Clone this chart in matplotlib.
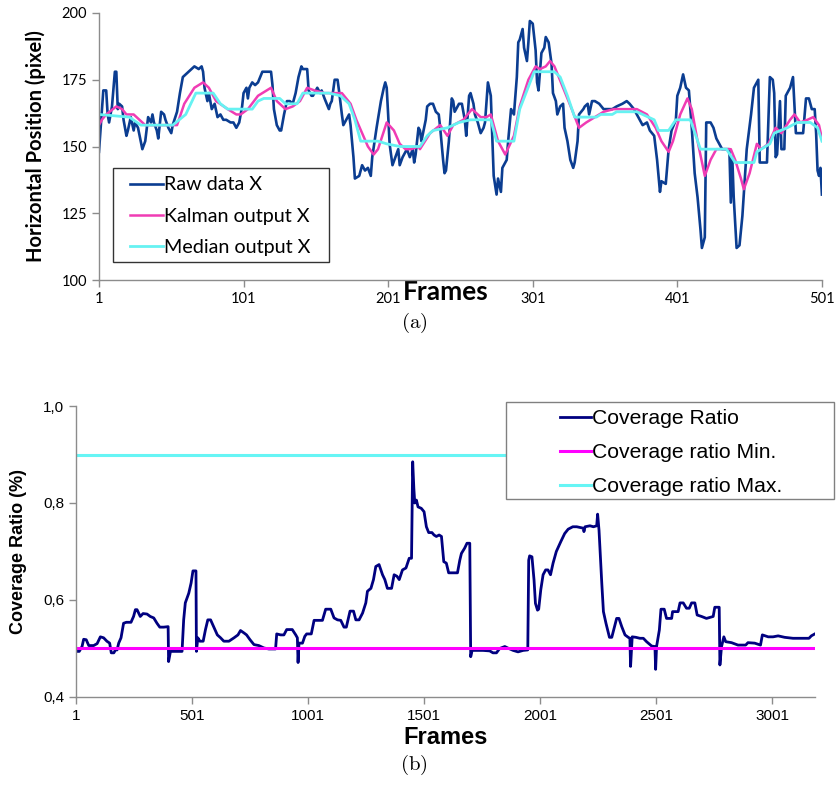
import matplotlib
matplotlib.use("Agg")
import matplotlib.pyplot as plt
from matplotlib.patches import Rectangle

plt.rcParams['mathtext.fontset'] = 'cm'

# ---- (a) horizontal position, frames 1..501 ----
raw_frames = [1, 4, 6, 7, 8, 10, 12, 13, 14, 15, 17, 18, 20, 21, 23, 25, 26, 28, 31, 33,
              35, 37, 38, 39, 41, 42, 44, 46, 47, 49, 51, 52, 55, 57, 59, 63, 65, 67, 70, 72,
              73, 74, 76, 77, 79, 81, 83, 85, 87, 89, 92, 94, 96, 98, 100, 101, 103, 104, 105, 107,
              109, 111, 114, 117, 120, 121, 122, 124, 126, 127, 129, 131, 133, 135, 137, 139, 141, 142, 145, 146,
              148, 149, 152, 154, 155, 157, 160, 161, 162, 164, 166, 167, 169, 170, 171, 174, 175, 177, 178, 181,
              183, 185, 187, 189, 190, 193, 196, 198, 199, 200, 201, 202, 204, 206, 208, 209, 211, 212, 214, 216,
              218, 219, 220, 222, 223, 224, 227, 228, 230, 232, 234, 236, 237, 239, 240, 241, 243, 245, 246, 247,
              249, 250, 252, 254, 255, 257, 258, 260, 261, 263, 265, 267, 268, 270, 272, 273, 274, 276, 277, 279,
              280, 283, 284, 286, 288, 290, 291, 292, 294, 295, 297, 298, 299, 301, 303, 304, 305, 307, 309, 310,
              312, 314, 315, 317, 318, 320, 322, 323, 325, 327, 329, 330, 332, 333, 336, 337, 339, 340, 342, 344,
              347, 350, 352, 356, 359, 363, 366, 368, 371, 374, 377, 380, 382, 385, 387, 389, 390, 393, 395, 397,
              400, 401, 403, 405, 407, 409, 410, 411, 413, 415, 417, 418, 420, 421, 424, 426, 428, 430, 432, 434,
              437, 438, 439, 440, 442, 444, 446, 449, 452, 454, 457, 458, 463, 465, 467, 468, 469, 470, 472, 473,
              475, 476, 478, 479, 481, 483, 485, 488, 490, 492, 494, 496, 497, 498, 499, 500, 501]
raw_x = [148, 171, 171, 162, 159, 165, 178, 178, 164, 166, 165, 160, 154, 156, 161, 156, 159, 157, 149, 152,
         161, 159, 162, 159, 156, 153, 163, 162, 160, 157, 155, 158, 163, 170, 176, 178, 179, 180, 179, 180,
         178, 172, 167, 170, 164, 166, 161, 162, 160, 160, 159, 159, 157, 159, 165, 170, 172, 168, 172, 174,
         173, 174, 178, 178, 178, 173, 164, 158, 156, 156, 162, 167, 167, 166, 170, 176, 180, 179, 179, 171,
         169, 169, 172, 170, 171, 168, 164, 166, 167, 175, 175, 171, 162, 158, 159, 162, 158, 146, 138, 139,
         143, 141, 142, 139, 146, 157, 167, 172, 174, 172, 162, 151, 143, 146, 149, 143, 146, 147, 149, 146,
         149, 144, 147, 157, 156, 152, 160, 165, 166, 166, 163, 162, 157, 145, 140, 141, 152, 168, 167, 163,
         165, 166, 166, 160, 154, 169, 170, 166, 162, 159, 155, 157, 159, 174, 169, 154, 139, 132, 138, 133,
         142, 145, 152, 164, 162, 176, 189, 190, 194, 187, 182, 189, 197, 196, 186, 174, 171, 185, 187, 191,
         189, 181, 170, 167, 162, 165, 166, 157, 152, 145, 142, 144, 152, 162, 164, 165, 166, 162, 167, 167,
         166, 164, 164, 164, 165, 166, 167, 166, 164, 161, 158, 159, 156, 154, 145, 133, 137, 136, 149, 156,
         160, 169, 172, 177, 172, 171, 164, 157, 140, 131, 119, 112, 116, 159, 159, 157, 153, 151, 149, 149,
         149, 129, 146, 131, 112, 113, 124, 149, 162, 172, 175, 144, 144, 176, 175, 170, 146, 147, 167, 149,
         149, 169, 171, 172, 176, 155, 155, 155, 168, 168, 164, 164, 155, 141, 139, 142, 132]

kalman_frames = [1, 3, 6, 13, 17, 20, 25, 29, 33, 39, 50, 55, 60, 67, 73, 77, 82, 90, 96, 99,
                 104, 111, 120, 124, 130, 135, 140, 145, 150, 157, 165, 169, 175, 179, 183, 187, 191, 194, 200, 205,
                 209, 213, 217, 222, 223, 230, 237, 242, 246, 253, 259, 265, 269, 272, 277, 282, 288, 292, 298, 303,
                 306, 310, 313, 316, 322, 328, 333, 338, 344, 350, 357, 366, 373, 380, 386, 390, 395, 398, 403, 408,
                 411, 415, 420, 424, 428, 438, 441, 445, 447, 451, 456, 459, 464, 469, 473, 479, 482, 486, 491, 495,
                 499, 501]
kalman_x = [158, 160, 162, 165, 164, 162, 162, 160, 158, 158, 158, 158, 166, 172, 174, 172, 167, 164, 162, 162,
            164, 169, 172, 167, 164, 165, 167, 172, 171, 170, 170, 170, 166, 160, 155, 150, 147, 149, 159, 156,
            151, 149, 149, 150, 149, 155, 158, 154, 158, 160, 164, 161, 161, 162, 152, 147, 154, 165, 175, 180,
            179, 180, 182, 180, 172, 164, 157, 159, 161, 163, 164, 164, 164, 162, 157, 152, 148, 152, 162, 168,
            164, 152, 139, 145, 149, 149, 145, 138, 134, 140, 151, 149, 151, 157, 155, 160, 162, 159, 160, 161,
            158, 153]

median_frames = [1, 22, 30, 52, 61, 68, 80, 85, 90, 107, 111, 115, 126, 130, 138, 142, 160, 168, 174, 178,
                 182, 194, 200, 209, 223, 228, 232, 242, 250, 258, 272, 276, 288, 292, 297, 302, 316, 320, 325, 330,
                 345, 348, 356, 359, 373, 385, 388, 395, 400, 410, 417, 435, 441, 454, 456, 465, 468, 477, 484, 493,
                 498, 501]
median_x = [162, 161, 158, 158, 162, 170, 170, 166, 164, 164, 167, 168, 168, 166, 166, 170, 170, 169, 166, 160,
            152, 152, 151, 150, 150, 154, 156, 157, 159, 160, 160, 152, 152, 164, 171, 178, 178, 176, 169, 161,
            161, 162, 162, 163, 163, 160, 156, 156, 160, 160, 149, 149, 144, 144, 148, 151, 155, 157, 159, 159,
            157, 152]

top_xticks = [1, 101, 201, 301, 401, 501]
top_yticks = [100, 125, 150, 175, 200]

# ---- (b) coverage ratio, frames 1..~3185 ----
cov_frames = [1, 15, 27, 34, 45, 56, 77, 92, 106, 120, 134, 146, 153, 164, 171, 178, 185, 195, 206, 218,
              238, 249, 257, 264, 278, 290, 307, 321, 336, 350, 362, 379, 398, 400, 408, 458, 465, 472, 487, 497,
              505, 518, 520, 526, 535, 549, 559, 569, 581, 595, 610, 624, 638, 660, 682, 699, 710, 725, 736, 751,
              768, 789, 811, 832, 861, 866, 883, 897, 909, 933, 948, 955, 958, 962, 977, 987, 995, 1015, 1027, 1063,
              1077, 1099, 1113, 1128, 1142, 1156, 1166, 1182, 1197, 1207, 1221, 1236, 1250, 1257, 1272, 1283, 1293, 1307, 1322, 1332,
              1343, 1361, 1372, 1384, 1394, 1408, 1423, 1437, 1447, 1452, 1457, 1461, 1468, 1475, 1489, 1501, 1511, 1521, 1535, 1544,
              1554, 1566, 1576, 1586, 1597, 1607, 1645, 1655, 1662, 1676, 1686, 1698, 1702, 1708, 1755, 1784, 1798, 1813, 1827, 1849,
              1866, 1885, 1906, 1928, 1948, 1952, 1956, 1966, 1975, 1981, 1990, 1995, 2004, 2014, 2025, 2035, 2046, 2057, 2071, 2090,
              2107, 2122, 2142, 2159, 2188, 2190, 2195, 2216, 2231, 2245, 2249, 2255, 2267, 2274, 2285, 2300, 2310, 2320, 2331, 2341,
              2353, 2367, 2381, 2388, 2391, 2398, 2414, 2431, 2446, 2460, 2482, 2496, 2499, 2503, 2515, 2522, 2536, 2546, 2568, 2572,
              2596, 2604, 2618, 2632, 2644, 2654, 2668, 2678, 2697, 2718, 2747, 2754, 2773, 2776, 2783, 2793, 2801, 2826, 2854, 2887,
              2897, 2926, 2951, 2959, 2984, 3005, 3027, 3055, 3091, 3160, 3170, 3185]
cov_ratio = [0.494, 0.494, 0.504, 0.519, 0.518, 0.506, 0.506, 0.510, 0.524, 0.522, 0.515, 0.511, 0.491, 0.491, 0.497, 0.497, 0.511, 0.522, 0.552, 0.554,
             0.554, 0.566, 0.580, 0.580, 0.566, 0.572, 0.571, 0.566, 0.563, 0.552, 0.544, 0.544, 0.545, 0.473, 0.494, 0.494, 0.559, 0.594, 0.614, 0.635,
             0.660, 0.660, 0.494, 0.522, 0.515, 0.515, 0.539, 0.559, 0.559, 0.544, 0.528, 0.522, 0.515, 0.515, 0.522, 0.528, 0.537, 0.532, 0.528, 0.518,
             0.508, 0.506, 0.501, 0.499, 0.499, 0.530, 0.528, 0.528, 0.539, 0.539, 0.528, 0.522, 0.471, 0.511, 0.511, 0.525, 0.530, 0.530, 0.558, 0.558,
             0.581, 0.581, 0.563, 0.559, 0.558, 0.544, 0.544, 0.577, 0.577, 0.559, 0.559, 0.573, 0.594, 0.618, 0.624, 0.642, 0.669, 0.673, 0.652, 0.642,
             0.624, 0.624, 0.652, 0.649, 0.642, 0.662, 0.666, 0.686, 0.686, 0.885, 0.830, 0.800, 0.806, 0.792, 0.789, 0.782, 0.751, 0.739, 0.739, 0.734,
             0.731, 0.734, 0.731, 0.679, 0.676, 0.656, 0.656, 0.682, 0.696, 0.707, 0.717, 0.717, 0.483, 0.496, 0.496, 0.495, 0.491, 0.491, 0.500, 0.504,
             0.500, 0.496, 0.493, 0.496, 0.497, 0.682, 0.691, 0.689, 0.641, 0.593, 0.579, 0.581, 0.621, 0.652, 0.662, 0.662, 0.652, 0.676, 0.700, 0.720,
             0.737, 0.746, 0.751, 0.751, 0.748, 0.741, 0.751, 0.753, 0.751, 0.753, 0.777, 0.744, 0.634, 0.576, 0.552, 0.523, 0.523, 0.542, 0.562, 0.562,
             0.545, 0.528, 0.523, 0.521, 0.463, 0.524, 0.523, 0.521, 0.521, 0.514, 0.505, 0.504, 0.457, 0.504, 0.538, 0.581, 0.581, 0.562, 0.562, 0.576,
             0.576, 0.594, 0.594, 0.583, 0.583, 0.594, 0.594, 0.569, 0.566, 0.562, 0.566, 0.585, 0.585, 0.466, 0.504, 0.524, 0.514, 0.512, 0.507, 0.507,
             0.512, 0.511, 0.507, 0.528, 0.524, 0.524, 0.526, 0.523, 0.521, 0.521, 0.526, 0.530]
ratio_min = 0.5
ratio_max = 0.9
bot_xticks = [1, 501, 1001, 1501, 2001, 2501, 3001]
bot_yticks = [0.4, 0.6, 0.8, 1.0]
bot_ytick_labels = ['0,4', '0,6', '0,8', '1,0']

W, H = 838, 787
fig = plt.figure(figsize=(W / 100, H / 100), dpi=100)

axis_grey = '#8c8c8c'

def style_axes(ax):
    for side in ['top', 'right']:
        ax.spines[side].set_visible(False)
    for side in ['left', 'bottom']:
        ax.spines[side].set_color(axis_grey)
        ax.spines[side].set_linewidth(1.0)
    ax.tick_params(direction='out', length=5, width=1.0, color=axis_grey, labelcolor='black')

def legend_box(x0, y0, x1, y1, edge):
    # frame drawn separately so the padding can match the original (pixel box)
    rect = Rectangle((x0 / W, 1 - y1 / H), (x1 - x0) / W, (y1 - y0) / H,
                     transform=fig.transFigure, facecolor='white', edgecolor=edge,
                     linewidth=1.0, zorder=2)
    fig.add_artist(rect)

# top panel
ax1 = fig.add_axes([0.1181, 0.6442, 0.8627, 0.3393])
l_raw, = ax1.plot(raw_frames, raw_x, color='#0b3d91', lw=1.9)
l_kal, = ax1.plot(kalman_frames, kalman_x, color='#f03cb4', lw=1.8)
l_med, = ax1.plot(median_frames, median_x, color='#66f2f2', lw=2.0)
ax1.set_xlim(1, 501)
ax1.set_ylim(100, 200)
ax1.set_xticks(top_xticks)
ax1.set_yticks(top_yticks)
style_axes(ax1)
for lab in ax1.get_xticklabels() + ax1.get_yticklabels():
    lab.set_fontfamily('Lato')
    lab.set_fontsize(10.5)
ax1.set_xlabel('Frames', fontfamily='Lato', fontweight='bold', fontsize=19, va='center')
ax1.xaxis.set_label_coords(0.480, -0.045)
ax1.set_ylabel('Horizontal Position (pixel)', fontfamily='Lato', fontweight='bold', fontsize=14.5, va='center')
ax1.yaxis.set_label_coords(-0.087, 0.5)

legend_box(113, 168, 329, 262, '#333333')
leg1 = fig.legend([l_raw, l_kal, l_med], ['Raw data X', 'Kalman output X', 'Median output X'],
                  loc='upper left', bbox_to_anchor=(130 / W, 1 - 176.5 / H), borderaxespad=0,
                  borderpad=0, frameon=False, prop={'family': 'Lato', 'size': 14.2},
                  handlelength=1.67, handletextpad=0.06, labelspacing=0.72)

# bottom panel
ax2 = fig.add_axes([0.0907, 0.1144, 0.8819, 0.3697])
l_cov, = ax2.plot(cov_frames, cov_ratio, color='#000080', lw=2.0)
l_min, = ax2.plot([cov_frames[0], cov_frames[-1]], [ratio_min, ratio_min], color='#ff00ff', lw=2.2)
l_max, = ax2.plot([cov_frames[0], cov_frames[-1]], [ratio_max, ratio_max], color='#66f5f5', lw=2.2)
ax2.set_xlim(1, 3186)
ax2.set_ylim(0.4, 1.0)
ax2.set_xticks(bot_xticks)
ax2.set_yticks(bot_yticks)
ax2.set_yticklabels(bot_ytick_labels)
style_axes(ax2)
for lab in ax2.get_xticklabels() + ax2.get_yticklabels():
    lab.set_fontfamily('Liberation Sans')
    lab.set_fontsize(11)
ax2.set_xlabel('Frames', fontfamily='Liberation Sans', fontweight='bold', fontsize=17, va='center')
ax2.xaxis.set_label_coords(0.5, -0.141)
ax2.set_ylabel('Coverage Ratio (%)', fontfamily='Liberation Sans', fontweight='bold', fontsize=13, va='center')
ax2.yaxis.set_label_coords(-0.078, 0.5)

legend_box(506, 402, 834, 499, '#808080')
leg2 = fig.legend([l_cov, l_min, l_max], ['Coverage Ratio', 'Coverage ratio Min.', 'Coverage ratio Max.'],
                  loc='upper left', bbox_to_anchor=(560 / W, 1 - 409.5 / H), borderaxespad=0,
                  borderpad=0, frameon=False, prop={'family': 'Liberation Sans', 'size': 15.2},
                  handlelength=1.47, handletextpad=0.06, labelspacing=0.71)

# captions
fig.text(0.494, 1 - 323 / H, r'$\mathrm{(a)}$', ha='center', va='center', fontsize=15)
fig.text(0.494, 1 - 765 / H, r'$\mathrm{(b)}$', ha='center', va='center', fontsize=15)

fig.savefig('out.png', dpi=100)
